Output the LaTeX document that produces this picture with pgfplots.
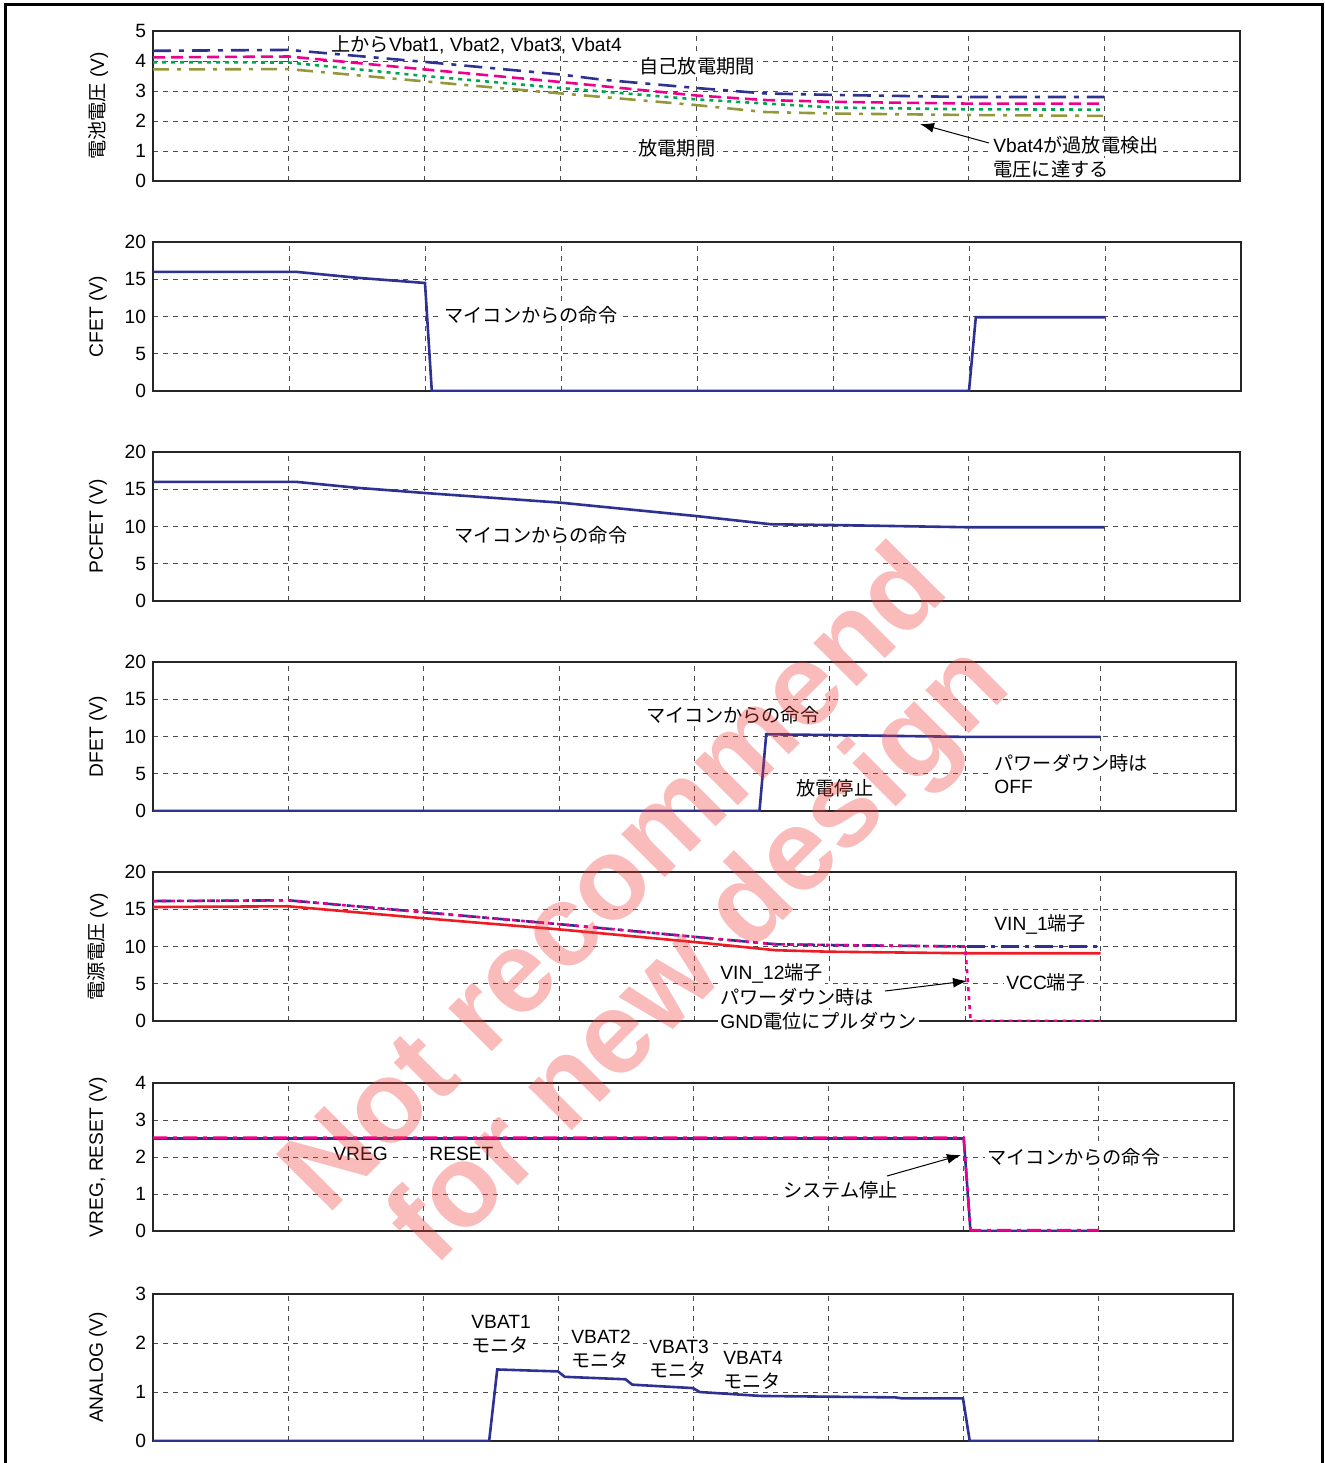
\documentclass[border=0pt]{standalone}
\usepackage{fontspec}
\setmainfont{Liberation Sans}
\newfontfamily\jp{Noto Sans CJK JP}
\usepackage{pgfplots}
\pgfplotsset{compat=1.18}
\usetikzlibrary{arrows.meta}

\definecolor{cnavy}{RGB}{46,49,146}
\definecolor{cmag}{RGB}{236,0,140}
\definecolor{cgreen}{RGB}{0,166,81}
\definecolor{colive}{RGB}{150,150,60}
\definecolor{cred}{RGB}{237,28,36}
\definecolor{wmred}{RGB}{240,60,60}

\newcommand{\fsz}{\fontsize{9.6}{11}\selectfont}

\pgfplotsset{
  panel/.style={
    scale only axis, anchor=south west,
    xmin=0, xmax=8, ymin=0,
    xtick={1,...,7}, xticklabels={},
    grid=major,
    major grid style={black!70, line width=0.4pt, dash pattern=on 2.5pt off 2.5pt},
    major tick length=0pt,
    axis line style={black!85, line width=0.9pt},
    tick label style={font=\fsz},
    /pgf/number format/assume math mode=true,
    label style={font=\fsz},
    ylabel style={at={(axis description cs:0,0.5)}, anchor=center, yshift=27.5pt},
    every axis plot/.append style={line width=1.3pt},
  },
}
\tikzset{lbl/.style={font=\fsz, inner sep=1pt}}

\begin{document}
\begin{tikzpicture}

% ---------- battery voltages ----------
\begin{axis}[panel, at={(76.5pt,-90.5pt)}, width=543.5pt, height=75pt,
  ymax=5, ytick={0,...,5}, ylabel={{\jp 電池電圧} (V)}]
  \addplot[cnavy, dash pattern=on 9pt off 4pt on 2.5pt off 4pt] coordinates {
    (0,4.34) (1,4.37) (2,3.97) (3,3.55) (3.3,3.38) (4,3.1) (4.5,2.92) (5,2.87) (6,2.8) (7,2.8)};
  \addplot[cmag, dash pattern=on 6pt off 3pt] coordinates {
    (0,4.12) (1,4.15) (2,3.72) (3,3.3) (4,2.85) (4.5,2.7) (5,2.64) (6,2.58) (7,2.58)};
  \addplot[cgreen, dash pattern=on 2pt off 2.5pt] coordinates {
    (0,3.96) (1,3.95) (2,3.5) (3,3.1) (4,2.72) (5,2.45) (6,2.39) (7,2.38)};
  \addplot[colive, dash pattern=on 8pt off 4pt on 2pt off 4pt] coordinates {
    (0,3.72) (1,3.73) (2,3.32) (3,2.92) (4,2.53) (4.5,2.3) (5,2.25) (6,2.2) (7,2.17)};
\end{axis}

% ---------- CFET ----------
\begin{axis}[panel, at={(76.5pt,-195.5pt)}, width=544pt, height=74.5pt,
  ymax=20, ytick={0,5,...,20}, ylabel={CFET (V)}]
  \addplot[cnavy] coordinates {
    (0,16) (1.05,16) (1.5,15.2) (2,14.5) (2.05,0) (6.0,0) (6.05,9.9) (7,9.9)};
\end{axis}

% ---------- PCFET ----------
\begin{axis}[panel, at={(76.5pt,-300.5pt)}, width=543.5pt, height=74.5pt,
  ymax=20, ytick={0,5,...,20}, ylabel={PCFET (V)}]
  \addplot[cnavy] coordinates {
    (0,16) (1.05,16) (1.5,15.2) (2,14.5) (3,13.2) (4,11.4) (4.55,10.3) (5,10.2) (6,9.9) (7,9.9)};
\end{axis}

% ---------- DFET ----------
\begin{axis}[panel, at={(76.5pt,-405.5pt)}, width=541.5pt, height=74.5pt,
  ymax=20, ytick={0,5,...,20}, ylabel={DFET (V)}]
  \addplot[cnavy] coordinates {
    (0,0) (4.48,0) (4.53,10.3) (5,10.2) (6,9.95) (7,9.95)};
\end{axis}

% ---------- supply voltages ----------
\begin{axis}[panel, at={(76.5pt,-510.5pt)}, width=541.5pt, height=74.5pt,
  ymax=20, ytick={0,5,...,20}, ylabel={{\jp 電源電圧} (V)}]
  \addplot[cred] coordinates {
    (0,15.3) (1,15.4) (2,13.8) (3,12.3) (4,10.6) (4.6,9.5) (5,9.3) (6,9.1) (7,9.1)};
  \addplot[cnavy, dash pattern=on 9pt off 3pt on 2pt off 3pt] coordinates {
    (0,16.1) (1,16.2) (2,14.6) (3,13) (4,11.3) (4.6,10.3) (5,10.2) (6,10) (7,10)};
  \addplot[cmag, dash pattern=on 2pt off 2.5pt] coordinates {
    (0,16.1) (1,16.2) (2,14.6) (3,13) (4,11.3) (4.6,10.3) (5,10.2) (6,10) (6.04,0) (7,0)};
\end{axis}

% ---------- VREG / RESET ----------
\begin{axis}[panel, at={(76.5pt,-615.5pt)}, width=540.5pt, height=74pt,
  ymax=4, ytick={0,...,4}, ylabel={VREG, RESET (V)}]
  \addplot[cnavy] coordinates {(0,2.5) (6,2.5) (6.05,0) (7,0)};
  \addplot[cmag, dash pattern=on 7pt off 3pt on 2pt off 3pt] coordinates {(0,2.52) (6,2.52) (6.05,0.02) (7,0.02)};
\end{axis}

% ---------- ANALOG ----------
\begin{axis}[panel, at={(76.5pt,-720.5pt)}, width=540pt, height=73.5pt,
  ymax=3, ytick={0,...,3}, ylabel={ANALOG (V)}]
  \addplot[cnavy] coordinates {
    (0,0) (2.49,0) (2.55,1.46) (3,1.42) (3.05,1.31) (3.5,1.26) (3.55,1.15) (4,1.08)
    (4.05,1.0) (4.5,0.92) (5.5,0.89) (5.55,0.87) (6,0.87) (6.05,0) (7,0)};
\end{axis}

\begin{scope}[x=0.5pt, y=-0.5pt]
  % outer frame
  \draw[line width=1.5pt] (5,1463) -- (5,4) -- (1322,4) -- (1322,1463);

  % panel 1
  \node[lbl, anchor=west] at (329,45) {{\jp 上から}Vbat1, Vbat2, Vbat3, Vbat4};
  \node[lbl, anchor=west, fill=white] at (637,66) {\jp 自己放電期間};
  \node[lbl, anchor=west, fill=white] at (636,148) {\jp 放電期間};
  \node[lbl, anchor=west, fill=white] at (991,145) {Vbat4{\jp が過放電検出}};
  \node[lbl, anchor=west, fill=white] at (991,169) {\jp 電圧に達する};
  \draw[line width=0.5pt, -{Latex[length=7pt, width=5pt]}] (989,143) -- (920,124);

  % panel 2, 3
  \node[lbl, anchor=west, fill=white] at (442,315) {\jp マイコンからの命令};
  \node[lbl, anchor=west, fill=white] at (452,535) {\jp マイコンからの命令};

  % panel 4
  \node[lbl, anchor=west, fill=white] at (644,715) {\jp マイコンからの命令};
  \node[lbl, anchor=west, fill=white] at (794,788) {\jp 放電停止};
  \node[lbl, anchor=west, fill=white] at (992,763) {\jp パワーダウン時は};
  \node[lbl, anchor=west, fill=white] at (992,787) {OFF};

  % panel 5
  \node[lbl, anchor=west, fill=white] at (992,924) {VIN\_1{\jp 端子}};
  \node[lbl, anchor=west, fill=white] at (718,973) {VIN\_12{\jp 端子}};
  \node[lbl, anchor=west, fill=white] at (718,997) {\jp パワーダウン時は};
  \node[lbl, anchor=west, fill=white] at (718,1021) {GND{\jp 電位にプルダウン}};
  \node[lbl, anchor=west, fill=white] at (1004,982) {VCC{\jp 端子}};
  \draw[line width=0.5pt, -{Latex[length=7pt, width=5pt]}] (885,991) -- (967,981);

  % panel 6
  \node[lbl, anchor=west, fill=white] at (331,1154) {VREG};
  \node[lbl, anchor=west, fill=white] at (427,1154) {RESET};
  \node[lbl, anchor=west, fill=white] at (985,1157) {\jp マイコンからの命令};
  \node[lbl, anchor=west, fill=white] at (781,1190) {\jp システム停止};
  \draw[line width=0.5pt, -{Latex[length=7pt, width=5pt]}] (887,1176) -- (961,1155);

  % panel 7
  \node[lbl, anchor=west, fill=white] at (469,1322) {VBAT1};
  \node[lbl, anchor=west, fill=white] at (469,1345) {\jp モニタ};
  \node[lbl, anchor=west, fill=white] at (569,1337) {VBAT2};
  \node[lbl, anchor=west, fill=white] at (569,1360) {\jp モニタ};
  \node[lbl, anchor=west, fill=white] at (647,1347) {VBAT3};
  \node[lbl, anchor=west, fill=white] at (647,1370) {\jp モニタ};
  \node[lbl, anchor=west, fill=white] at (721,1358) {VBAT4};
  \node[lbl, anchor=west, fill=white] at (721,1381) {\jp モニタ};

  % watermark
  \node[rotate=45, text=wmred, text opacity=0.35, inner sep=0pt,
        font=\fontsize{58}{60}\selectfont\bfseries] at (610,875) {Not recommend};
  \node[rotate=45, text=wmred, text opacity=0.35, inner sep=0pt,
        font=\fontsize{58}{60}\selectfont\bfseries] at (703,958) {for new design};

  \pgfresetboundingbox
  \path[use as bounding box] (0,0) rectangle (1324,1463);
\end{scope}
\end{tikzpicture}
\end{document}
